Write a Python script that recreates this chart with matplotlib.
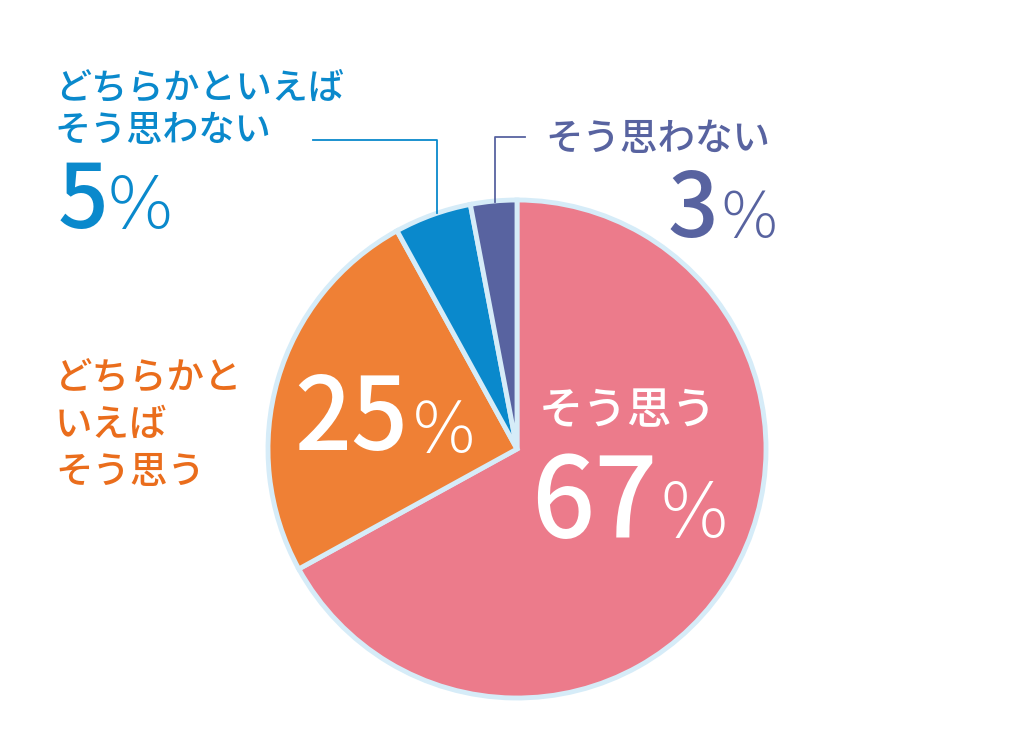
import matplotlib.pyplot as plt

plt.rcParams['font.family'] = ['Noto Sans CJK JP', 'DejaVu Sans']

labels = ["そう思う", "どちらかといえばそう思う", "どちらかといえばそう思わない", "そう思わない"]
values = [67, 25, 5, 3]
colors = ["#ec7b8b", "#ef8035", "#0a89cc", "#5863a0"]
text_colors = ["white", "#ea6d1c", "#0a89cc", "#5863a0"]

W, H = 1024, 744
PCT_FONT = ["DejaVu Sans"]


def Y(y):
    # picture rows -> data y (y up)
    return H - y


def pct(x, y, size, color):
    ax.text(x, Y(y), "%", color=color, fontsize=size, va="baseline", ha="left",
            fontweight=200, family=PCT_FONT)


fig = plt.figure(figsize=(10.24, 7.44), dpi=100)
ax = fig.add_axes([0, 0, 1, 1])

ax.pie(values, colors=colors, startangle=90, counterclock=False,
       center=(517, Y(449)), radius=249,
       wedgeprops=dict(edgecolor="#d6ecf8", linewidth=3.5))
ax.set_xlim(0, W)
ax.set_ylim(0, H)
ax.set_aspect("equal")
ax.axis("off")

# leader lines
ax.plot([437, 437, 313], [Y(213), Y(140), Y(140)], color=colors[2], lw=1.3)
ax.plot([495, 495, 525], [Y(202), Y(137), Y(137)], color=colors[3], lw=1.3)

# どちらかといえばそう思わない
c = text_colors[2]
ax.text(55, Y(88), "どちらかといえば", color=c, fontsize=26, va="center", ha="left", fontweight="medium")
ax.text(55, Y(131), "そう思わない", color=c, fontsize=26, va="center", ha="left", fontweight="medium")
ax.text(58, Y(228), f"{values[2]}", color=c, fontsize=64, va="baseline", ha="left", fontweight="medium")
pct(106, 228, 52, c)

# そう思わない
c = text_colors[3]
ax.text(770, Y(139), "そう思わない", color=c, fontsize=27, va="center", ha="right", fontweight="medium")
ax.text(668, Y(237), f"{values[3]}", color=c, fontsize=64, va="baseline", ha="left", fontweight="medium")
pct(719, 237, 45, c)

# どちらかといえばそう思う
for i, line in enumerate(["どちらかと", "いえば", "そう思う"]):
    ax.text(55, Y(378 + 47 * i), line, color=text_colors[1], fontsize=27, va="center",
            ha="left", fontweight="medium")

# inside labels
ax.text(294, Y(450), f"{values[1]}", color="white", fontsize=72, va="baseline", ha="left", fontweight="medium")
pct(411, 452, 50, "white")

ax.text(628, Y(412), labels[0], color="white", fontsize=32, va="center", ha="center", fontweight="medium")
ax.text(531, Y(537), f"{values[0]}", color="white", fontsize=80, va="baseline", ha="left", fontweight="medium")
pct(658, 537, 54, "white")

fig.savefig("out.png", dpi=100)
